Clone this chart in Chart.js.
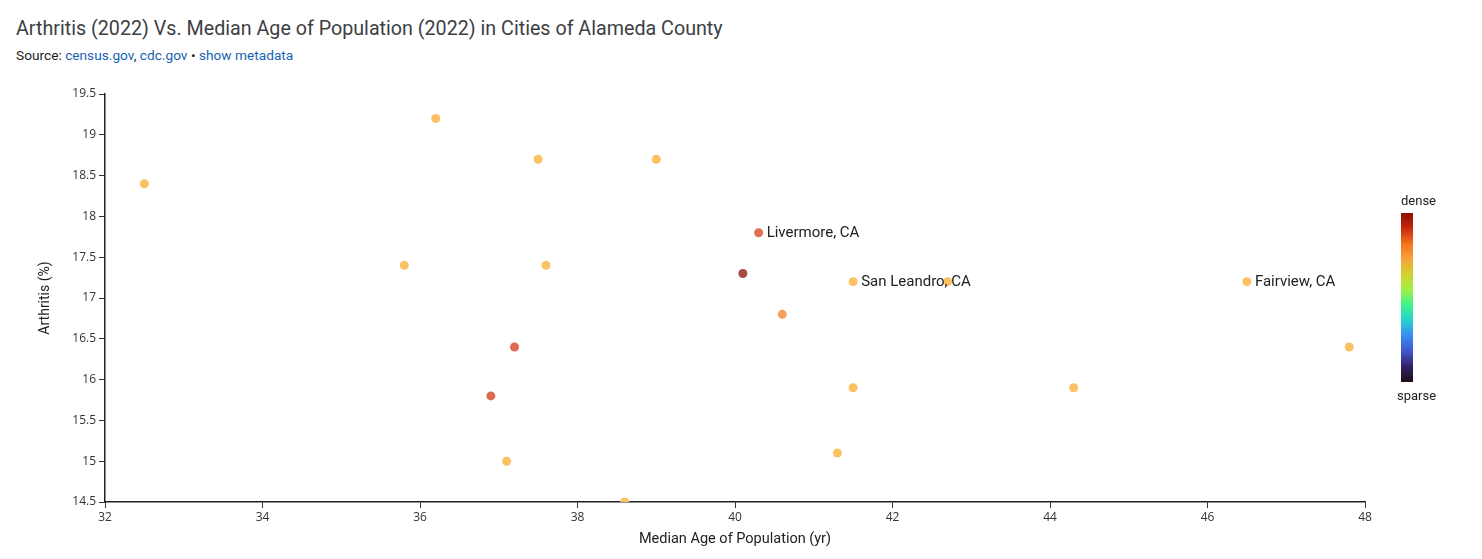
<!DOCTYPE html>
<html>
<head>
<meta charset="utf-8">
<script src="https://cdn.jsdelivr.net/npm/chart.js@4"></script>
<style>
  body { margin: 0; background: #fff; font-family: Roboto, "Open Sans", sans-serif; }
  #wrap { position: relative; width: 1482px; height: 559px; }
  #title { position: absolute; left: 16px; top: 17px; font-size: 19.7px; color: #3c4043; font-weight: 400; white-space: nowrap; }
  #source { position: absolute; left: 16px; top: 47px; font-size: 13.7px; color: #202124; white-space: nowrap; }
  #source a { color: #1a5fb4; text-decoration: none; }
  #chart { position: absolute; left: 0; top: 0; }
  #bar { position: absolute; left: 1401px; top: 213px; width: 12px; height: 169px;
    background: linear-gradient(to bottom, #8a0f05, #c8290c, #f3731b, #f6a33a, #d2d22f, #9ef046, #3bf48c, #26cfd4, #3a8cf0, #4055c8, #30216a, #1c1010); }
  .lbl { position: absolute; font-size: 13px; color: #202124; }
</style>
</head>
<body>
<div id="wrap">
  <div id="title">Arthritis (2022) Vs. Median Age of Population (2022) in Cities of Alameda County</div>
  <div id="source">Source: <a href="#">census.gov</a>, <a href="#">cdc.gov</a> • <a href="#">show metadata</a></div>
  <canvas id="chart" width="1482" height="559"></canvas>
  <div class="lbl" style="left:1401px;top:193px;">dense</div>
  <div id="bar"></div>
  <div class="lbl" style="left:1397px;top:388px;">sparse</div>
</div>
<script>
const medianAge = [32.5, 36.2, 37.5, 39.0, 35.8, 37.6, 40.3, 40.1, 41.5, 42.7, 46.5, 40.6, 37.2, 36.9, 37.1, 38.6, 41.5, 41.3, 44.3, 47.8];
const arthritis = [18.4, 19.2, 18.7, 18.7, 17.4, 17.4, 17.8, 17.3, 17.2, 17.2, 17.2, 16.8, 16.4, 15.8, 15.0, 14.5, 15.9, 15.1, 15.9, 16.4];
const pointLabels = ['', '', '', '', '', '', 'Livermore, CA', '', 'San Leandro, CA', '', 'Fairview, CA', '', '', '', '', '', '', '', '', ''];
const pointColors = ['#fbc163', '#fbc163', '#fbc163', '#fbc163', '#fbc163', '#fbc163', '#e07152', '#a94b44', '#fbc163', '#fbc163', '#fbc163', '#f5a05c', '#dd6b50', '#dd6b50', '#fbc163', '#fbc163', '#fbc163', '#fbc163', '#fbc163', '#fbc163'];
const xTicks = [32, 34, 36, 38, 40, 42, 44, 46, 48];
const yTicks = [14.5, 15, 15.5, 16, 16.5, 17, 17.5, 18, 18.5, 19, 19.5];

const labelPlugin = {
  id: 'pointLabels',
  afterDatasetsDraw(chart) {
    const ctx = chart.ctx;
    const xs = chart.scales.x, ys = chart.scales.y;
    ctx.save();
    ctx.font = '15px Roboto, "Open Sans", sans-serif';
    ctx.fillStyle = '#202124';
    ctx.textBaseline = 'middle';
    pointLabels.forEach((t, i) => {
      if (!t) return;
      ctx.fillText(t, xs.getPixelForValue(medianAge[i]) + 8, ys.getPixelForValue(arthritis[i]) + 1);
    });
    ctx.restore();
  }
};

new Chart(document.getElementById('chart'), {
  type: 'scatter',
  data: {
    datasets: [{
      data: medianAge.map((x, i) => ({ x: x, y: arthritis[i] })),
      backgroundColor: pointColors,
      borderWidth: 0,
      pointRadius: 4.5,
      pointHoverRadius: 4.5
    }]
  },
  options: {
    responsive: false,
    animation: false,
    layout: { padding: { top: 94, right: 117, left: 0, bottom: 0 } },
    plugins: { legend: { display: false }, tooltip: { enabled: false } },
    scales: {
      x: {
        type: 'linear', min: 32, max: 48,
        afterBuildTicks: s => { s.ticks = xTicks.map(v => ({ value: v })); },
        afterFit: s => { s.height = 57; },
        ticks: { font: { size: 12, family: '"Open Sans", sans-serif' }, color: '#333', padding: 2, maxRotation: 0 },
        grid: { drawOnChartArea: false, drawTicks: true, tickLength: 6, color: '#333', tickWidth: 1 },
        border: { color: '#222', width: 1.5 },
        title: { display: true, text: 'Median Age of Population (yr)', font: { size: 14.5, family: 'Roboto, sans-serif' }, color: '#202124', padding: { top: 11, bottom: 11 } }
      },
      y: {
        type: 'linear', min: 14.5, max: 19.5,
        afterBuildTicks: s => { s.ticks = yTicks.map(v => ({ value: v })); },
        afterFit: s => { s.width = 105; },
        ticks: { font: { size: 12, family: '"Open Sans", sans-serif' }, color: '#333', padding: 3, callback: v => String(v) },
        grid: { drawOnChartArea: false, drawTicks: true, tickLength: 6, color: '#333', tickWidth: 1 },
        border: { color: '#222', width: 1.5 },
        title: { display: true, text: 'Arthritis (%)', font: { size: 14, family: 'Roboto, sans-serif' }, color: '#202124', padding: { top: 37, bottom: 37 } }
      }
    }
  },
  plugins: [labelPlugin]
});
</script>
</body>
</html>
